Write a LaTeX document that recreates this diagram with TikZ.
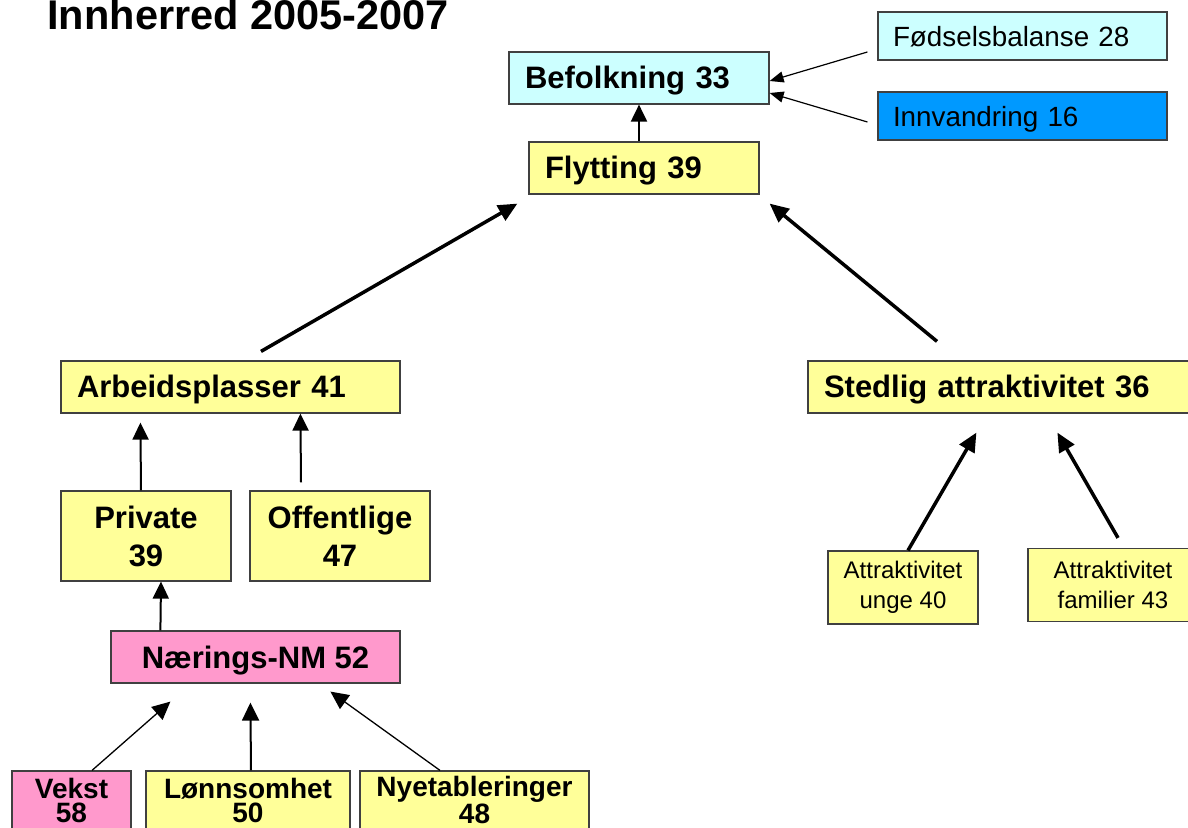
\documentclass[tikz,border=0pt]{standalone}
\usepackage{fontspec}
\setmainfont{Liberation Sans}
\usetikzlibrary{arrows.meta,calc}
\definecolor{lyscyan}{HTML}{CCFFFF}
\definecolor{lysgul}{HTML}{FFFF99}
\definecolor{rosa}{HTML}{FF99CC}
\definecolor{blaa}{HTML}{0099FF}
\begin{document}
\begin{tikzpicture}[x=0.5pt, y=-0.5pt,
  boks/.style={draw=black!75, line width=0.6pt, inner sep=0pt},
  venstreboks/.style={boks, font=\bfseries\fontsize{15.5}{19}\selectfont, align=left, inner xsep=8pt, minimum height=26pt, text height=11.5pt, text depth=0.5pt, text width=#1},
  tekstboks/.style={boks, font=\fontsize{13.9}{17}\selectfont, align=left, inner xsep=7.5pt, minimum height=24pt, text height=11.5pt, text depth=0.5pt, text width=#1},
  midtboks/.style={boks, font=\bfseries\fontsize{15.5}{19}\selectfont, align=center},
  bunnboks/.style={boks, font=\bfseries\fontsize{14}{12}\selectfont, align=center, minimum height=29pt},
  attrboks/.style={boks, fill=lysgul, font=\fontsize{12}{15}\selectfont, align=center, minimum height=36.5pt},
  tynnpil/.style={line width=0.6pt, -{Triangle[length=7pt,width=5.5pt]}},
  bunnpil/.style={line width=0.65pt, -{Triangle[length=9pt,width=8.5pt]}},
  midpil/.style={line width=1pt, -{Triangle[length=8.5pt,width=8pt]}},
  tykkpil/.style={line width=1.75pt, -{Triangle[length=9.5pt,width=8.5pt]}}]
  \useasboundingbox (0,0) rectangle (1188,828);

  % tittel
  \node[anchor=base west, inner sep=0pt, font=\bfseries\fontsize{20.75}{24}\selectfont] (tittel) at (47,30) {Innherred 2005-2007};

  % befolkning og flytting
  \node[venstreboks=114pt, fill=lyscyan] (befolk) at (639,78) {Befolkning 33};
  \node[venstreboks=99pt, fill=lysgul] (flyt) at (644,168) {Flytting 39};
  \node[tekstboks=129.5pt, fill=lyscyan] (fods) at (1022.5,36) {Fødselsbalanse 28};
  \node[tekstboks=129.5pt, fill=blaa] (innv) at (1022.5,116) {Innvandring 16};

  % arbeidsplasser
  \node[venstreboks=153.5pt, fill=lysgul] (arb) at (230.5,387) {Arbeidsplasser 41};
  \node[midtboks, fill=lysgul, minimum width=85pt, minimum height=45pt] (priv) at (146,536) {Private\\39};
  \node[midtboks, fill=lysgul, minimum width=90pt, minimum height=45pt] (off) at (340,536) {Offentlige\\47};
  \node[midtboks, fill=rosa, minimum width=144.5pt, minimum height=26pt, text height=11.5pt, text depth=0.5pt] (naer) at (255.5,657) {Nærings-NM 52};
  \node[bunnboks, fill=rosa, minimum width=59.5pt] (vekst) at (71.5,800) {Vekst\\58};
  \node[bunnboks, fill=lysgul, minimum width=102pt] (lonn) at (248,800) {Lønnsomhet\\50};
  \node[bunnboks, fill=lysgul, minimum width=114.5pt] (nye) at (474.5,800) {Nyetableringer\\48};

  % stedlig attraktivitet
  \node[venstreboks=175pt, fill=lysgul] (sted) at (999,387) {Stedlig attraktivitet 36};
  \node[attrboks, minimum width=75pt] (unge) at (903,587.5) {Attraktivitet\\unge 40};
  \node[attrboks, minimum width=85pt] (fam) at (1113,585) {Attraktivitet\\familier 43};

  % piler
  \draw[tynnpil] ($(fods.west)+(-10,16)$) -- ($(befolk.east)+(0,3)$);
  \draw[tynnpil] ($(innv.west)+(-10,6)$) -- ($(befolk.east)+(0,15)$);
  \draw[midpil] (flyt.north -| befolk.south) -- (befolk.south);
  \draw[tykkpil] ($(arb.north)+(30.5,-9)$) -- ($(flyt.south west)+(-11,9)$);
  \draw[tykkpil] ($(sted.north)+(-62,-19)$) -- ($(flyt.south east)+(10,9)$);
  \draw[midpil] ($(priv.north)+(-5,0)$) -- ($(arb.south west)+(80,9)$);
  \draw[midpil] ($(off.north)+(-39,-8)$) -- ($(arb.south west)+(240,0)$);
  \draw[midpil] ($(naer.north west)+(50,0)$) -- ($(priv.south)+(15,0)$);
  \draw[bunnpil] ($(vekst.north)+(20.5,0)$) -- ($(naer.south west)+(60,18)$);
  \draw[bunnpil, line width=1pt] ($(lonn.north)+(3,0)$) -- ($(naer.south west)+(140,19)$);
  \draw[bunnpil] ($(nye.north)+(-34.5,0)$) -- ($(naer.south west)+(220,8)$);
  \draw[tykkpil] ($(unge.north)+(5,0)$) -- ($(sted.south west)+(169,19)$);
  \draw[tykkpil] ($(fam.north)+(5,-10)$) -- ($(sted.south west)+(250,19)$);
\end{tikzpicture}
\end{document}
